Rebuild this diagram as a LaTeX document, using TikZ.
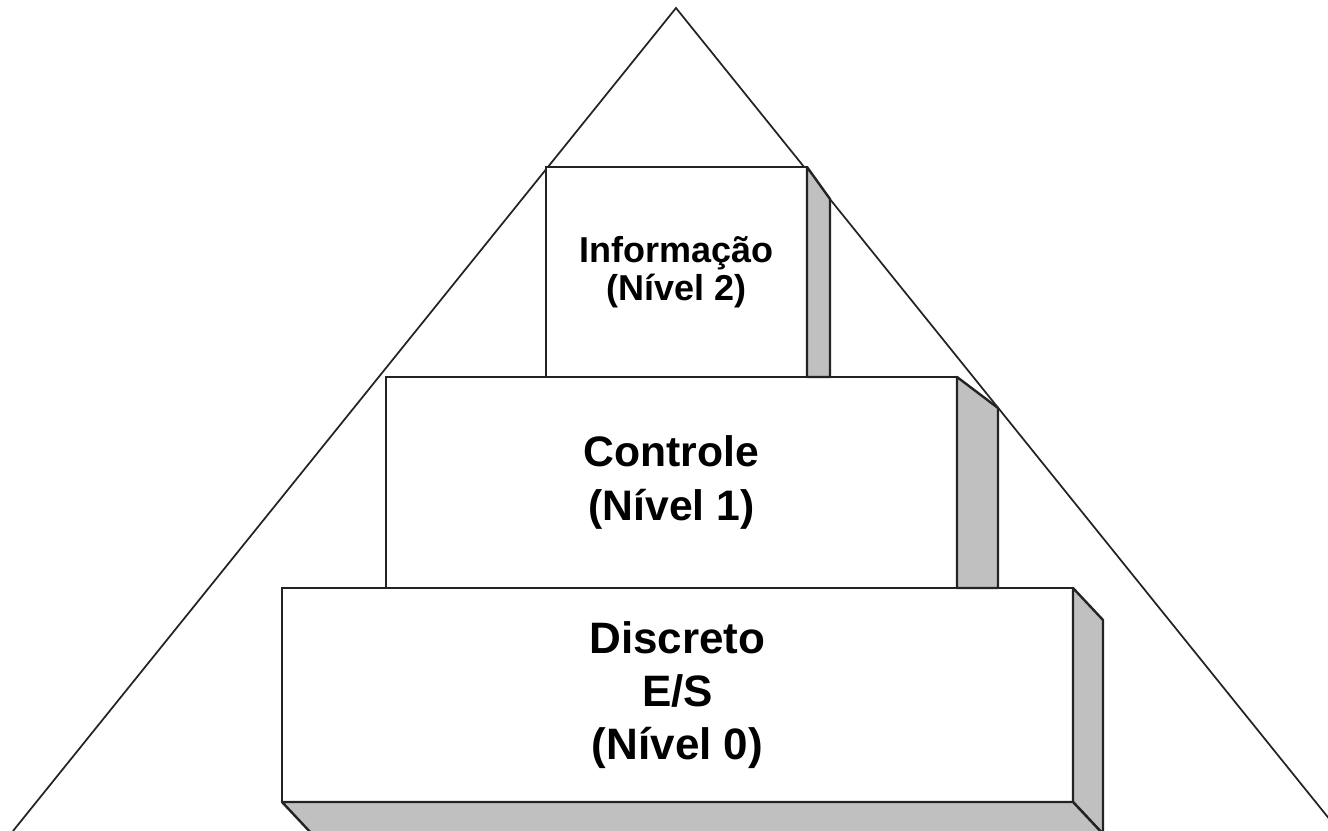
\documentclass[tikz,border=0pt]{standalone}
\usepackage{fontspec}
\setmainfont{Liberation Sans}
\definecolor{edge}{RGB}{35,35,35}
\definecolor{shade}{RGB}{192,192,192}
\begin{document}
\begin{tikzpicture}[x=0.75pt,y=-0.75pt,
  face/.style={draw=edge,line width=1.8pt,fill=white,inner sep=0pt,outer sep=0pt,
    align=center,font=\bfseries},
  sideface/.style={draw=edge,line width=1.8pt,fill=shade,line join=round},
  pyr/.style={draw=edge,line width=1.3pt}]
\useasboundingbox (0,0) rectangle (1328,831);
\clip (0,0) rectangle (1328,831);
% outline of the pyramid
\coordinate (apex) at (676,8);
\coordinate (baseL) at (13,831);
\coordinate (baseR) at (1339,831);
\draw[pyr] (baseL) -- (apex) -- (baseR);
% level 0
\node[face,minimum width=791*0.75pt,minimum height=214*0.75pt,
  font=\bfseries\fontsize{33}{40}\selectfont] (n0) at (677.5,695)
  {Discreto\\E/S\\(Nível 0)};
\draw[sideface] (n0.north east) -- ++(30,32) -- ++(0,214) -- (n0.south east) -- cycle;
\draw[sideface] (n0.south west) -- (n0.south east) -- ++(30,32) -- ++(-791,0) -- cycle;
% level 1
\node[face,minimum width=571*0.75pt,minimum height=211*0.75pt,
  font=\bfseries\fontsize{32}{41}\selectfont] (n1) at (671.5,482.5)
  {Controle\\(Nível 1)};
\draw[sideface] (n1.north east) -- ++(41,31) -- ++(0,180) -- (n1.south east) -- cycle;
% level 2
\node[face,minimum width=261*0.75pt,minimum height=210*0.75pt,
  font=\bfseries\fontsize{27}{28.5}\selectfont] (n2) at (676.5,272)
  {Informação\\(Nível 2)};
\draw[sideface] (n2.north east) -- ++(23,32) -- ++(0,178) -- (n2.south east) -- cycle;
\end{tikzpicture}
\end{document}
